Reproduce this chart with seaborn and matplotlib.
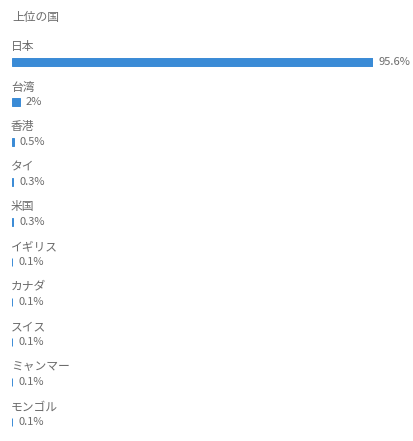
import matplotlib
matplotlib.use("Agg")
import matplotlib.pyplot as plt
import seaborn as sns
import pandas as pd

sns.set_style("white")
plt.rcParams["font.family"] = ["Noto Sans CJK JP", "DejaVu Sans"]

TITLE = "上位の国"
countries = ["日本", "台湾", "香港", "タイ", "米国", "イギリス", "カナダ", "スイス", "ミャンマー", "モンゴル"]
shares = [95.6, 2, 0.5, 0.3, 0.3, 0.1, 0.1, 0.1, 0.1, 0.1]

BAR_COLOR = "#3a8bd6"
TEXT_COLOR = "#6b6b6b"

df = pd.DataFrame({"country": countries, "share": shares})

W, H = 414, 441
fig = plt.figure(figsize=(W / 100, H / 100), dpi=100)
fig.patch.set_facecolor("white")

# axes: left 12px, bars span to 373px for the max value; one 40px slot per country
left, right_px = 12, 373
top_px, bottom_px = 42, 442
ax = fig.add_axes([left / W, 1 - bottom_px / H, (right_px - left) / W, (bottom_px - top_px) / H])

sns.barplot(data=df, x="share", y="country", orient="h", color=BAR_COLOR,
            width=0.2, saturation=1, edgecolor=BAR_COLOR, linewidth=0.7, ax=ax)
ax.set_xlim(0, max(shares))
ax.set_ylim(len(countries) - 0.5, -0.5)
ax.axis("off")

for i, (name, val) in enumerate(zip(countries, shares)):
    # country name above the bar
    ax.annotate(name, xy=(0, i), xytext=(-1, 15), textcoords="offset pixels",
                ha="left", va="center", fontsize=8.5, color=TEXT_COLOR,
                annotation_clip=False)
    # value label to the right of the bar
    ax.annotate(f"{val:g}%", xy=(val, i), xytext=(6, 0), textcoords="offset pixels",
                ha="left", va="center", fontsize=8, color=TEXT_COLOR,
                annotation_clip=False)

fig.text(12 / W, 1 - 18 / H, TITLE, ha="left", va="center", fontsize=8.5, color=TEXT_COLOR)

fig.savefig("out.png", dpi=100, facecolor="white")
